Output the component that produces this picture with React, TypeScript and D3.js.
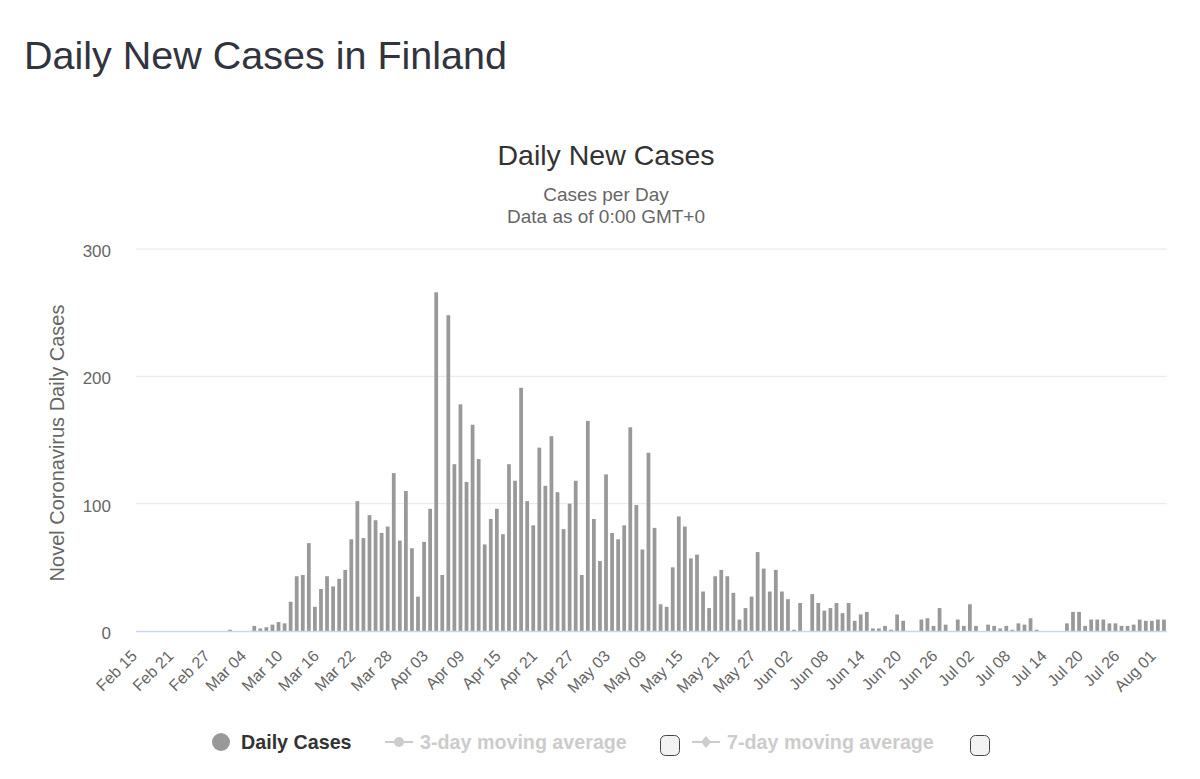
import React from "react";
import * as d3 from "d3";

// ---- data ----
const startDate = new Date(2020, 1, 15);
const endDateExclusive = new Date(2020, 7, 3);
const fmt = d3.timeFormat("%b %d");
const categories: string[] = d3.timeDay.range(startDate, endDateExclusive).map((d) => fmt(d));

const febValues = [0, 0, 0, 0, 0, 0, 0, 0, 0, 0, 0, 0, 0, 0, 0];
const marValues = [1, 0, 0, 0, 4, 2, 3, 5, 7, 6, 23, 43, 44, 69, 19, 33, 43, 35, 41, 48, 72, 102, 73, 91, 87, 77, 82, 124, 71, 110, 65];
const aprValues = [27, 70, 96, 266, 44, 248, 131, 178, 117, 162, 135, 68, 88, 96, 76, 131, 118, 191, 102, 83, 144, 114, 153, 109, 80, 100, 118, 44, 165, 88];
const mayValues = [55, 123, 77, 72, 83, 160, 99, 64, 140, 81, 21, 19, 50, 90, 82, 57, 60, 31, 18, 43, 48, 43, 30, 9, 18, 27, 62, 49, 31, 48, 31];
const junValues = [25, 1, 22, 0, 29, 22, 16, 18, 22, 14, 22, 8, 13, 15, 2, 2, 4, 1, 13, 8, 0, 0, 9, 10, 4, 18, 5, 0, 9, 4];
const julValues = [21, 4, 0, 5, 4, 2, 4, 1, 6, 5, 10, 1, 0, 0, 0, 0, 6, 15, 15, 4, 9, 9, 9, 6, 6, 4, 4, 5, 9, 8, 8];
const augValues = [9, 9];
const dailyCases = [...febValues, ...marValues, ...aprValues, ...mayValues, ...junValues, ...julValues, ...augValues];

const tickLabels = [
  "Feb 15", "Feb 21", "Feb 27", "Mar 04", "Mar 10", "Mar 16", "Mar 22", "Mar 28",
  "Apr 03", "Apr 09", "Apr 15", "Apr 21", "Apr 27", "May 03", "May 09", "May 15",
  "May 21", "May 27", "Jun 02", "Jun 08", "Jun 14", "Jun 20", "Jun 26", "Jul 02",
  "Jul 08", "Jul 14", "Jul 20", "Jul 26", "Aug 01",
];
const yTicks = [0, 100, 200, 300];

const FONT = "'Liberation Sans', Arial, Helvetica, sans-serif";

export default function App() {
  const W = 1200, H = 779;
  const left = 136, right = 1167, top = 249, bottom = 631;
  const pad = 0.38;
  const x = d3.scaleBand<string>().domain(categories).range([left, right]).paddingInner(pad).paddingOuter(pad / 2);
  const y = d3.scaleLinear().domain([0, 300]).range([bottom, top]);
  const bw = x.bandwidth();

  return (
    <svg width={W} height={H} style={{ position: "absolute", left: 0, top: 0, background: "#fff" }} fontFamily={FONT}>
      <rect x={0} y={0} width={W} height={H} fill="#fff" />
      <text x={24} y={69} fontSize={39.5} fill="#31343e">Daily New Cases in Finland</text>

      <text x={606} y={165} fontSize={28.5} fill="#333" textAnchor="middle">Daily New Cases</text>
      <text x={606} y={201} fontSize={19} fill="#666" textAnchor="middle">Cases per Day</text>
      <text x={606} y={223} fontSize={19} fill="#666" textAnchor="middle">Data as of 0:00 GMT+0</text>

      {yTicks.map((t) => (
        <g key={t}>
          {t > 0 && <line x1={left} x2={right} y1={y(t)} y2={y(t)} stroke="#e6e6e6" strokeWidth={1} />}
          <text x={111} y={y(t) + 8} fontSize={17} fill="#666" textAnchor="end">{t}</text>
        </g>
      ))}

      <text
        transform={`translate(64,443) rotate(-90)`}
        fontSize={20}
        fill="#666"
        textAnchor="middle"
      >
        Novel Coronavirus Daily Cases
      </text>

      {dailyCases.map((v, i) => (
        <rect key={i} x={x(categories[i])!} y={y(v)} width={bw} height={bottom - y(v)} fill="#999" />
      ))}

      <line x1={left} x2={right} y1={bottom + 0.5} y2={bottom + 0.5} stroke="#ccd6eb" strokeWidth={1.5} />

      {tickLabels.map((lab) => {
        const cx = (x(lab) ?? 0) + bw / 2;
        return (
          <text
            key={lab}
            transform={`translate(${cx - 1},657) rotate(-45)`}
            fontSize={16}
            fill="#666"
            textAnchor="end"
          >
            {lab}
          </text>
        );
      })}

      {/* legend */}
      <g>
        <circle cx={221} cy={742} r={9} fill="#999" />
        <text x={241} y={749} fontSize={19.7} fontWeight="bold" fill="#333">Daily Cases</text>

        <line x1={385} x2={413} y1={742} y2={742} stroke="#ccc" strokeWidth={2} />
        <circle cx={399} cy={742} r={5} fill="#ccc" />
        <text x={420} y={749} fontSize={19.7} fontWeight="bold" fill="#ccc">3-day moving average</text>
        <rect x={660.5} y={735.5} width={19} height={20} rx={5} fill="#f3f3f3" stroke="#444" strokeWidth={1} />

        <line x1={692} x2={720} y1={742} y2={742} stroke="#ccc" strokeWidth={2} />
        <path d="M706,736 L711,742 L706,748 L701,742 Z" fill="#ccc" />
        <text x={727} y={749} fontSize={19.7} fontWeight="bold" fill="#ccc">7-day moving average</text>
        <rect x={970.5} y={735.5} width={19} height={20} rx={5} fill="#f3f3f3" stroke="#444" strokeWidth={1} />
      </g>
    </svg>
  );
}
